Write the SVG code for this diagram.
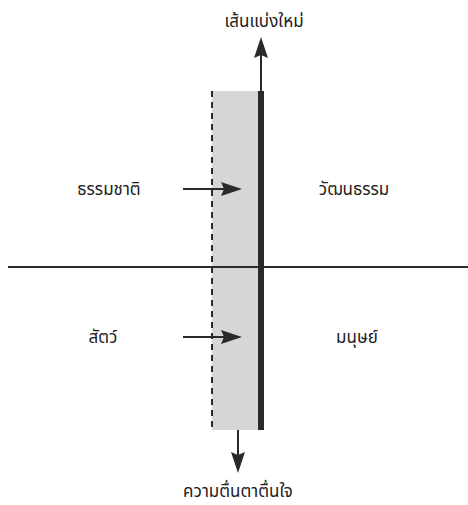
<svg xmlns="http://www.w3.org/2000/svg" width="468" height="505" viewBox="0 0 468 505">
<style>
text{font-family:"Noto Sans Thai","Noto Sans","DejaVu Sans",sans-serif;font-size:17px;fill:#222;text-anchor:middle}
.ln{stroke:#2a2a2a;stroke-width:2;fill:none}
.hd{fill:#2a2a2a}
</style>
<g id="band">
<rect x="212" y="91" width="47" height="339" fill="#d6d6d6"/>
<line x1="212" y1="91" x2="212" y2="430" stroke="#2a2a2a" stroke-width="2" stroke-dasharray="6,5"/>
<rect x="258" y="91" width="6" height="339" fill="#2a2a2a"/>
</g>
<g id="connectors">
<line class="ln" x1="8" y1="267" x2="468" y2="267"/>
<line class="ln" x1="261" y1="91" x2="261" y2="52"/>
<path class="hd" d="M261,37 L268,58 L261,55 L254,58 Z"/>
<line class="ln" x1="238" y1="430" x2="238" y2="458"/>
<path class="hd" d="M238,473 L245,452 L238,455 L231,452 Z"/>
<line class="ln" x1="183" y1="189" x2="228" y2="189"/>
<path class="hd" d="M242,189 L221,182 L224,189 L221,196 Z"/>
<line class="ln" x1="183" y1="337" x2="228" y2="337"/>
<path class="hd" d="M242,337 L221,330 L224,337 L221,344 Z"/>
</g>
<g id="n-top"><text x="264" y="27">เส้นแบ่งใหม่</text></g>
<g id="n-nature"><text x="109" y="195">ธรรมชาติ</text></g>
<g id="n-culture"><text x="354" y="195">วัฒนธรรม</text></g>
<g id="n-animal"><text x="103" y="343">สัตว์</text></g>
<g id="n-human"><text x="357" y="343">มนุษย์</text></g>
<g id="n-bottom"><text x="238" y="497">ความตื่นตาตื่นใจ</text></g>
</svg>
